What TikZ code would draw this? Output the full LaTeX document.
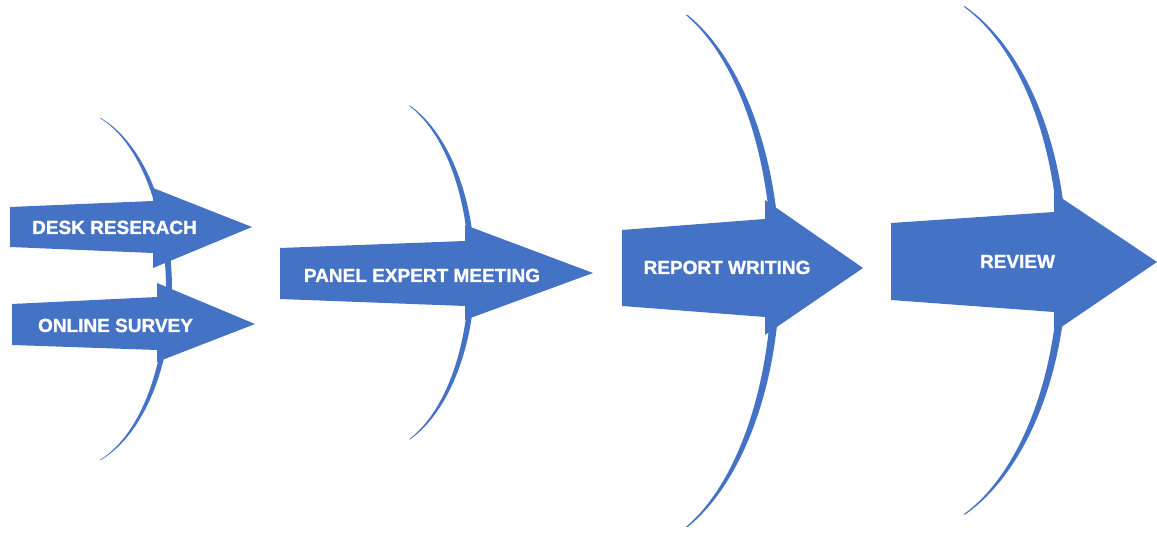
\documentclass[tikz,border=0pt]{standalone}
\usepackage{fontspec}
\setmainfont{Liberation Sans}[BoldFeatures={FakeBold=1.2}]
\definecolor{bblue}{HTML}{4472C4}
% cx cy a R theta t
\newcommand\bowarc[6]{%
  \fill[bblue] plot[domain=-#5:#5, samples=80, smooth]
     ({#1+(#3+#6*(cos(\x))^0.6)*cos(\x)},{#2+#4*sin(\x)})
   -- plot[domain=#5:-#5, samples=80, smooth]
     ({#1+(#3-#6*(cos(\x))^0.6)*cos(\x)},{#2+#4*sin(\x)}) -- cycle;}
\begin{document}
\begin{tikzpicture}[x=1pt,y=-1pt,
  blockarrow/.style={fill=bblue},
  lbl/.style={text=white,font=\bfseries\fontsize{19}{19}\selectfont,anchor=base,inner sep=0pt}]
\useasboundingbox (0,0) rectangle (1157,534);
% bows
\bowarc{69}{289}{100}{180}{72}{3}
\bowarc{372}{272.5}{100}{180}{68}{3}
\bowarc{626}{271}{150}{280}{66}{4}
\bowarc{903}{260.5}{160}{275}{67.5}{4}
% arrows
\fill[blockarrow] (10,207) -- (153,201) -- (153,188) -- (252,227) -- (153,268) -- (153,253) -- (10,247) -- cycle;
\fill[blockarrow] (12,304) -- (157,297) -- (157,283) -- (255,324) -- (157,362) -- (157,350) -- (12,345) -- cycle;
\fill[blockarrow] (280,248) -- (465,241) -- (465,225) -- (593,273) -- (465,320) -- (465,306) -- (280,299) -- cycle;
\fill[blockarrow] (622,230) -- (765,219) -- (765,200) -- (863,268) -- (765,335) -- (765,317) -- (622,306) -- cycle;
\fill[blockarrow] (891,223) -- (1054,212) -- (1054,193) -- (1157,262) -- (1054,332) -- (1054,312) -- (891,300) -- cycle;
% labels
\node[lbl] (desk) at (114.5,234) {DESK RESERACH};
\node[lbl] (online) at (115.5,332) {ONLINE SURVEY};
\node[lbl] (panel) at (422,282) {PANEL EXPERT MEETING};
\node[lbl] (report) at (727,274) {REPORT WRITING};
\node[lbl] (review) at (1017.5,268) {REVIEW};
\end{tikzpicture}
\end{document}
